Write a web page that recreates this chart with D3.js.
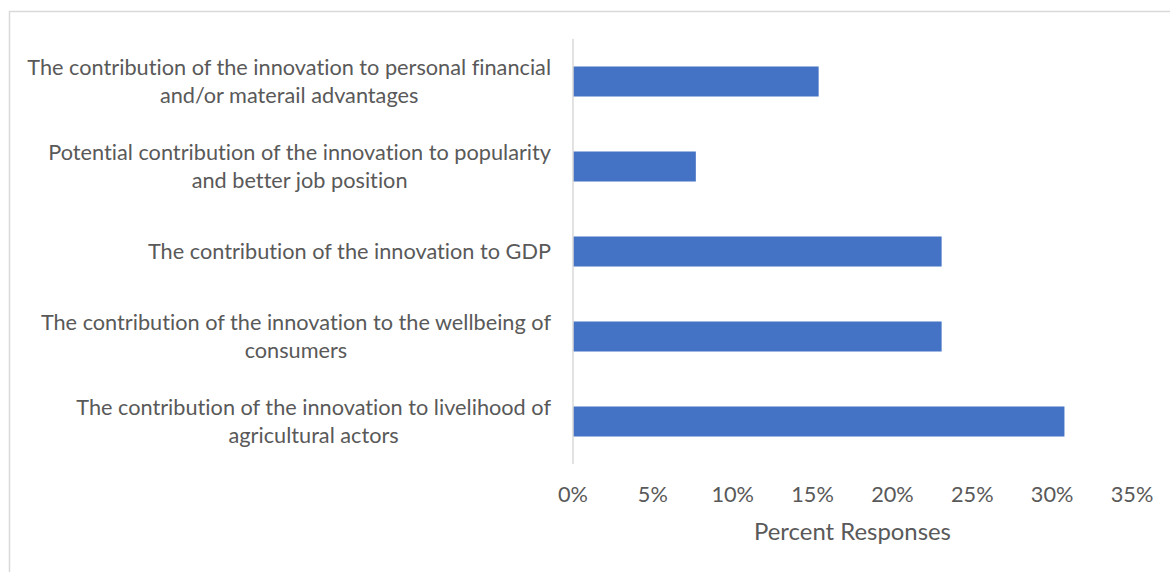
<!DOCTYPE html>
<html><head><meta charset="utf-8">
<script src="https://cdn.jsdelivr.net/npm/d3@7"></script>
<style>html,body{margin:0;padding:0;background:#fff;}svg{display:block;}text{font-variant-ligatures:none;font-feature-settings:"liga" 0;}</style>
</head><body>
<svg id="chart" width="1170" height="572"></svg>
<script>
const categories = [
  ["The contribution of the innovation to personal financial", "and/or materail advantages"],
  ["Potential contribution of the innovation to popularity", "and better job position"],
  ["The contribution of the innovation to GDP"],
  ["The contribution of the innovation to the wellbeing of", "consumers"],
  ["The contribution of the innovation to livelihood of", "agricultural actors"]
];
const values = [0.1538, 0.0769, 0.2308, 0.2308, 0.3077];
const xTicks = [0, 0.05, 0.10, 0.15, 0.20, 0.25, 0.30, 0.35];
const xTitle = "Percent Responses";

const svg = d3.select("#chart");
const FONT = "Lato, 'Noto Sans', sans-serif";
const TEXT = "#595959";

function fitSize(str, target) {
  const p = svg.append("text").attr("font-family", FONT).attr("font-size", 20).text(str);
  const w = p.node().getComputedTextLength();
  p.remove();
  return Math.max(14, Math.min(28, 20 * target / w));
}
const fs = fitSize(categories[0][0], 524);
const fsTitle = fitSize(xTitle, 197);

// frame
svg.append("rect").attr("x", 9.5).attr("y", 11.5).attr("width", 1200).attr("height", 600)
  .attr("fill", "none").attr("stroke", "#d9d9d9").attr("stroke-width", 1.5);

const x = d3.scaleLinear().domain([0, 0.35]).range([573, 1132]);
const y = d3.scaleBand().domain(d3.range(categories.length)).range([39, 464])
  .paddingInner(0.647).paddingOuter(0.3235);

// bars
svg.append("g").selectAll("rect").data(values).join("rect")
  .attr("x", x(0)).attr("y", (d, i) => y(i))
  .attr("width", d => x(d) - x(0)).attr("height", y.bandwidth())
  .attr("fill", "#4472C4");

// vertical axis line
svg.append("line").attr("x1", x(0)).attr("x2", x(0)).attr("y1", 39).attr("y2", 464)
  .attr("stroke", "#d9d9d9").attr("stroke-width", 1.5);

// category labels
const labelRight = 551;
const lineH = 28;
categories.forEach((lines, i) => {
  const cy = y(i) + y.bandwidth() / 2;
  const g = svg.append("g");
  const texts = lines.map((t, k) => g.append("text")
    .attr("font-family", FONT).attr("font-size", fs).attr("fill", TEXT)
    .attr("text-anchor", "middle")
    .attr("y", cy + (k - (lines.length - 1) / 2) * lineH + fs * 0.35)
    .text(t));
  const W = d3.max(texts, t => t.node().getComputedTextLength());
  texts.forEach(t => t.attr("x", labelRight - W / 2));
});

// x axis tick labels
const fmt = d3.format(".0%");
svg.append("g").selectAll("text").data(xTicks).join("text")
  .attr("x", d => x(d)).attr("y", 502)
  .attr("text-anchor", "middle").attr("font-family", FONT).attr("font-size", fs)
  .attr("fill", TEXT).text(d => fmt(d));

// axis title
svg.append("text").attr("x", (x(0) + x(0.35)) / 2).attr("y", 540)
  .attr("text-anchor", "middle").attr("font-family", FONT).attr("font-size", fsTitle)
  .attr("fill", TEXT).text(xTitle);
</script>
</body></html>
